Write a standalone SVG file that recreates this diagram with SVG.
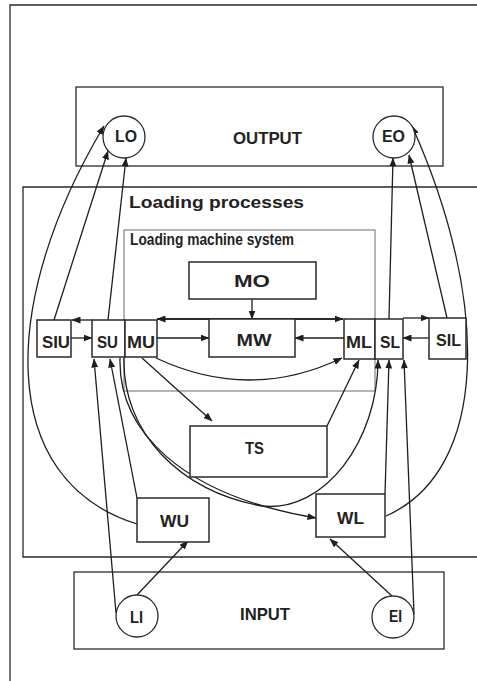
<svg xmlns="http://www.w3.org/2000/svg" width="477" height="681" viewBox="0 0 477 681">
<style>
.frame{fill:none;stroke:#2a2a2a;stroke-width:1.3}
.thin{fill:none;stroke:#6a6a6a;stroke-width:1}
.box{fill:#fff;stroke:#2a2a2a;stroke-width:1.5}
.circ{fill:#fff;stroke:#2a2a2a;stroke-width:1.3}
.lbl{font-family:"Liberation Sans",Arial,sans-serif;font-weight:bold;font-size:17px;fill:#222}
.c{text-anchor:middle}
.con path{fill:none;stroke:#1e1e1e;stroke-width:1.3;marker-end:url(#ah)}
</style>
<defs>
<marker id="ah" markerUnits="userSpaceOnUse" markerWidth="9" markerHeight="7" refX="8.5" refY="3.5" orient="auto">
<path d="M0,0 L9,3.5 L0,7 z" fill="#1e1e1e"/>
</marker>
</defs>
<rect width="477" height="681" fill="#fff"/>

<g id="frame">
<path class="frame" d="M480,5 H10 V681"/>
</g>

<g id="output">
<rect class="frame" x="76" y="87" width="367" height="79"/>
<text class="lbl c" x="267.5" y="144" textLength="69" lengthAdjust="spacingAndGlyphs">OUTPUT</text>
</g>

<g id="loading-processes">
<path class="frame" d="M480,187 H23 V557 H480"/>
<text class="lbl" x="129" y="208" font-size="18" textLength="175" lengthAdjust="spacingAndGlyphs">Loading processes</text>
</g>

<g id="loading-machine-system">
<rect class="thin" x="124" y="230" width="251" height="161"/>
<text class="lbl" x="130" y="245" font-size="13.5" textLength="164" lengthAdjust="spacingAndGlyphs">Loading machine system</text>
</g>

<g id="input">
<rect class="frame" x="74" y="572" width="370" height="77"/>
<text class="lbl c" x="265" y="620" textLength="50" lengthAdjust="spacingAndGlyphs">INPUT</text>
</g>

<g class="con" id="connectors">
<path d="M54,320 L108,151"/>
<path d="M108,320 L126,158"/>
<path d="M137,524 C-5,480 0,300 104,126"/>
<path d="M389,319 L393,158"/>
<path d="M447,318 L409,155"/>
<path d="M386,516 C490,470 490,300 412,126"/>
<path d="M71,338 L92,338"/>
<path d="M92,320 L72,320"/>
<path d="M157,338 L209,338"/>
<path d="M343,319 L157,319"/>
<path d="M157,319 L343,319"/>
<path d="M252,299 L252,319"/>
<path d="M344,338 L295,338"/>
<path d="M429,338 L403,338"/>
<path d="M403,318 L429,318"/>
<path d="M156,358 Q250,402 342,358"/>
<path d="M142,358 L212,421"/>
<path d="M327,426 L359,360"/>
<path d="M120,358 C118,430 180,495 316,518"/>
<path d="M124,358 C122,432 180,492 262,506 C325,513 378,440 378,360"/>
<path d="M385,494 L389,360"/>
<path d="M414,614 L404,360"/>
<path d="M116,613 L94,359"/>
<path d="M137,498 L110,359"/>
<path d="M137,595 L188,541"/>
<path d="M392,596 L330,539"/>
</g>

<g id="LO"><circle class="circ" cx="124" cy="137" r="21"/><text class="lbl c" x="126" y="142" font-size="16" textLength="22" lengthAdjust="spacingAndGlyphs">LO</text></g>
<g id="EO"><circle class="circ" cx="394" cy="137" r="21"/><text class="lbl c" x="393.5" y="142" font-size="16" textLength="23" lengthAdjust="spacingAndGlyphs">EO</text></g>
<g id="LI"><circle class="circ" cx="137" cy="616" r="21"/><text class="lbl c" x="136.5" y="623" font-size="16" textLength="13" lengthAdjust="spacingAndGlyphs">LI</text></g>
<g id="EI"><circle class="circ" cx="393" cy="617" r="21"/><text class="lbl c" x="395.5" y="622" font-size="16" textLength="13" lengthAdjust="spacingAndGlyphs">EI</text></g>

<g id="MO"><rect class="box" x="189" y="262" width="127" height="37"/><text class="lbl c" x="252" y="287" textLength="36" lengthAdjust="spacingAndGlyphs">MO</text></g>
<g id="MW"><rect class="box" x="209" y="319" width="86" height="38"/><text class="lbl c" x="254" y="346" textLength="35" lengthAdjust="spacingAndGlyphs">MW</text></g>
<g id="SIU"><rect class="box" x="37" y="320" width="34" height="37"/><text class="lbl c" x="56" y="348" textLength="28" lengthAdjust="spacingAndGlyphs">SIU</text></g>
<g id="SU"><rect class="box" x="92" y="320" width="33" height="37"/><text class="lbl c" x="107.5" y="348" textLength="21" lengthAdjust="spacingAndGlyphs">SU</text></g>
<g id="MU"><rect class="box" x="125" y="320" width="32" height="37"/><text class="lbl c" x="141" y="348" textLength="28" lengthAdjust="spacingAndGlyphs">MU</text></g>
<g id="ML"><rect class="box" x="344" y="319" width="31" height="40"/><text class="lbl c" x="359" y="348" textLength="26" lengthAdjust="spacingAndGlyphs">ML</text></g>
<g id="SL"><rect class="box" x="375" y="319" width="28" height="40"/><text class="lbl c" x="390" y="348" textLength="20" lengthAdjust="spacingAndGlyphs">SL</text></g>
<g id="SIL"><rect class="box" x="429" y="318" width="37" height="41"/><text class="lbl c" x="448.5" y="346" textLength="25" lengthAdjust="spacingAndGlyphs">SIL</text></g>
<g id="TS"><rect class="box" x="190" y="426" width="137" height="51"/><text class="lbl c" x="254.5" y="454" textLength="19" lengthAdjust="spacingAndGlyphs">TS</text></g>
<g id="WU"><rect class="box" x="137" y="498" width="72" height="44"/><text class="lbl c" x="174.5" y="527" textLength="29" lengthAdjust="spacingAndGlyphs">WU</text></g>
<g id="WL"><rect class="box" x="316" y="494" width="69" height="43"/><text class="lbl c" x="350.5" y="524" textLength="27" lengthAdjust="spacingAndGlyphs">WL</text></g>
</svg>
